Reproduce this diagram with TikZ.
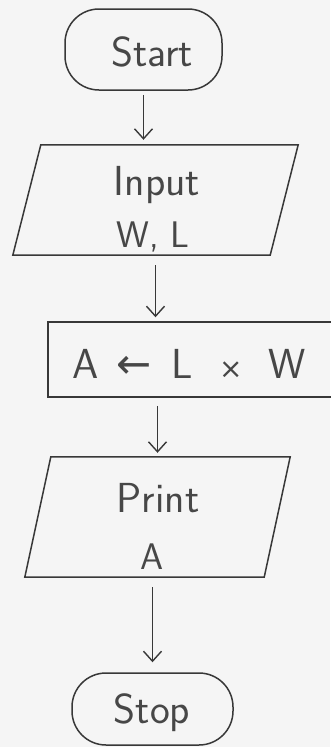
\documentclass[tikz,border=0pt]{standalone}
\usepackage{fontspec}
\newfontfamily\symf{DejaVu Sans}
\usetikzlibrary{arrows.meta}
\begin{document}
\begin{tikzpicture}[x=1pt,y=-1pt,
  ink/.style={draw=black!78, line width=1.5pt},
  txt/.style={text=black!72, font=\sffamily\fontsize{42}{44}\selectfont, inner sep=0pt},
  small/.style={font=\sffamily\fontsize{37}{39}\selectfont},
  term/.style={ink, rounded corners=34pt, inner sep=0pt},
  box/.style={shape=rectangle, inner sep=0pt},
  proc/.style={ink, shape=rectangle, inner sep=0pt},
  flow/.style={draw=black!78, line width=1.4pt, -{Straight Barb[length=10pt,width=18pt,line width=1.4pt]}}
]
\fill[black!4] (0,0) rectangle (330,747);
\useasboundingbox (0,0) rectangle (330,747);

\node[term, minimum width=157pt, minimum height=81pt] (start) at (143.5,49.5) {};
\node[txt] (startT) at (152,52) {Start};

\node[box, minimum width=285pt, minimum height=110pt] (in) at (155.5,200) {};
\draw[ink] ([xshift=28pt]in.north west) -- (in.north east) -- ([xshift=-28pt]in.south east) -- (in.south west) -- cycle;
\node[txt] (inT1) at (157,185) {Input};
\node[txt, small] (inT2) at (153,237) {W, L};

\node[proc, minimum width=300pt, minimum height=75pt] (calc) at (198,359.5) {};
\node[txt] (calcT) at (189,364) {A\hspace{18pt}{\symf ←}\hspace{20pt}L\hspace{26pt}{\symf\fontsize{28}{30}\selectfont ×}\hspace{26pt}W};

\node[box, minimum width=265pt, minimum height=120pt] (prt) at (157.5,517) {};
\draw[ink] ([xshift=26pt]prt.north west) -- (prt.north east) -- ([xshift=-26pt]prt.south east) -- (prt.south west) -- cycle;
\node[txt] (prtT1) at (158,498) {Print};
\node[txt, small] (prtT2) at (152,557) {A};

\node[term, minimum width=161pt, minimum height=72pt] (stop) at (152.5,709) {};
\node[txt] (stopT) at (152,713) {Stop};

\draw[flow, shorten <=4pt, shorten >=5pt] (start.south) -- (start.south |- in.north);
\draw[flow, shorten <=10pt, shorten >=4pt] (in.south) -- (in.south |- calc.north);
\draw[flow, shorten <=8pt, shorten >=4pt] (prt.north |- calc.south) -- (prt.north);
\draw[flow, shorten <=10pt, shorten >=10pt] (stop.north |- prt.south) -- (stop.north);
\end{tikzpicture}
\end{document}
